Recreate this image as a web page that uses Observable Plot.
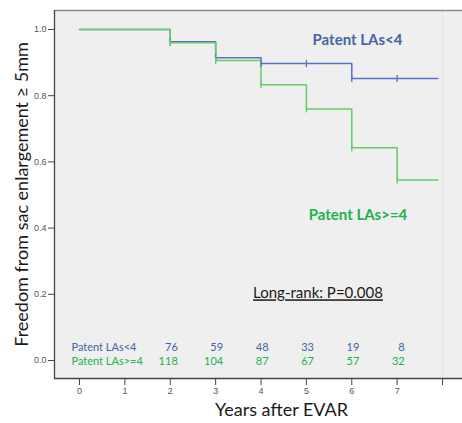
<!DOCTYPE html>
<html>
<head>
<meta charset="utf-8">
<script src="https://cdn.jsdelivr.net/npm/d3@7"></script>
<script src="https://cdn.jsdelivr.net/npm/@observablehq/plot@0.6"></script>
<style>
  html, body { margin: 0; padding: 0; background: #ffffff; }
  #chart svg { display: block; }
</style>
</head>
<body>
<div id="chart"></div>
<script>
// ---- data ----
const groups = ["Patent LAs<4", "Patent LAs>=4"];
const colors = ["#5e70c4", "#62cf66"];
const textColors = ["#4465a5", "#22b14e"];

const blueTimes = [0, 2, 3, 4, 6, 7.9];
const blueSurv  = [1.0, 0.963, 0.915, 0.897, 0.852, 0.852];
const greenTimes = [0, 2, 3, 4, 5, 6, 7, 7.9];
const greenSurv  = [1.0, 0.960, 0.906, 0.833, 0.760, 0.643, 0.545, 0.545];

const blueCensorT = [2, 3, 4, 5, 6, 7];
const blueCensorS = [0.963, 0.915, 0.897, 0.897, 0.852, 0.852];
const greenCensorT = [2, 3, 4, 5, 6, 7];
const greenCensorS = [0.960, 0.906, 0.833, 0.760, 0.643, 0.545];

const riskYears = [2, 3, 4, 5, 6, 7];
const riskBlue  = [76, 59, 48, 33, 19, 8];
const riskGreen = [118, 104, 87, 67, 57, 32];

const xTicks = [0, 1, 2, 3, 4, 5, 6, 7, 8];
const xTickLabels = ["0", "1", "2", "3", "4", "5", "6", "7", ""];
const yTicks = [0, 0.2, 0.4, 0.6, 0.8, 1.0];

const pText = "Long-rank: P=0.008";
const xLabel = "Years after EVAR";
const yLabel = "Freedom from sac enlargement \u2265 5mm";

const xDomain = [-0.551, 8.44];
const yDomain = [-0.0544, 1.0574];

// ---- build ----
const blue = blueTimes.map((t, i) => ({t, s: blueSurv[i]}));
const green = greenTimes.map((t, i) => ({t, s: greenSurv[i]}));
const blueC = blueCensorT.map((t, i) => ({t, s: blueCensorS[i]}));
const greenC = greenCensorT.map((t, i) => ({t, s: greenCensorS[i]}));
const riskB = riskYears.map((t, i) => ({t, n: riskBlue[i]}));
const riskG = riskYears.map((t, i) => ({t, n: riskGreen[i]}));

const tickSymbol = { draw(ctx, size) { ctx.moveTo(0, -3.5); ctx.lineTo(0, 3.5); } };

const tickFont = "'Liberation Sans Narrow', 'Arial Narrow', 'Liberation Sans', sans-serif";
const mainFont = "Lato, 'Open Sans', sans-serif";

const plot = Plot.plot({
  width: 462,
  height: 423,
  marginLeft: 54,
  marginRight: 0,
  marginTop: 10,
  marginBottom: 45,
  style: { fontFamily: mainFont, background: "#ffffff", overflow: "visible" },
  x: { domain: xDomain },
  y: { domain: yDomain },
  marks: [
    Plot.frame({ fill: "#efefef", stroke: "none" }),
    Plot.ruleX([8], { stroke: "#e2e2e2", strokeWidth: 1 }),
    Plot.ruleY([yDomain[1]], { stroke: "#8a8a8a", strokeWidth: 1.5 }),
    Plot.ruleX([xDomain[0]], { stroke: "#444", strokeWidth: 1.3 }),
    Plot.ruleY([yDomain[0]], { stroke: "#444", strokeWidth: 1.3 }),
    Plot.axisY(yTicks, {
      tickFormat: d3.format(".1f"), tickSize: 6, tickPadding: 2,
      fontSize: 9, fontFamily: tickFont, color: "#555", stroke: "#444",
      label: null
    }),
    Plot.axisX(xTicks, {
      tickFormat: (d, i) => xTickLabels[i], tickSize: 7, tickPadding: 2,
      fontSize: 9, fontFamily: tickFont, color: "#555", stroke: "#444",
      label: null
    }),
    Plot.text([yLabel], {
      frameAnchor: "left", dx: -32, rotate: -90, fontSize: 18, fill: "#1a1a1a",
      textAnchor: "middle", fontFamily: mainFont
    }),
    Plot.text([xLabel], {
      frameAnchor: "bottom", dy: 32, fontSize: 18, fill: "#1a1a1a",
      textAnchor: "middle", lineAnchor: "middle", fontFamily: mainFont, dx: 23
    }),
    Plot.line(blue, { x: "t", y: "s", curve: "step-after", stroke: colors[0], strokeWidth: 1.5 }),
    Plot.line(green, { x: "t", y: "s", curve: "step-after", stroke: colors[1], strokeWidth: 1.5 }),
    Plot.dot(blueC, { x: "t", y: "s", symbol: tickSymbol, stroke: colors[0], strokeWidth: 1.3, r: 3 }),
    Plot.dot(greenC, { x: "t", y: "s", symbol: tickSymbol, stroke: colors[1], strokeWidth: 1.3, r: 3 }),
    Plot.text([groups[0]], {
      frameAnchor: "top-right", dx: -105, dy: 30, textAnchor: "middle", lineAnchor: "middle",
      fontSize: 15, fontWeight: "bold", fill: textColors[0]
    }),
    Plot.text([groups[1]], {
      frameAnchor: "top-right", dx: -104.5, dy: 205, textAnchor: "middle", lineAnchor: "middle",
      fontSize: 15, fontWeight: "bold", fill: textColors[1]
    }),
    Plot.text([pText], {
      frameAnchor: "top-right", dx: -144.5, dy: 283, textAnchor: "middle", lineAnchor: "middle",
      fontSize: 15, fill: "#1a1a1a"
    }),
    Plot.text([groups[0]], {
      frameAnchor: "bottom-left", dx: 17, dy: -31.5, textAnchor: "start", lineAnchor: "middle",
      fontSize: 11, fill: textColors[0]
    }),
    Plot.text([groups[1]], {
      frameAnchor: "bottom-left", dx: 17, dy: -17, textAnchor: "start", lineAnchor: "middle",
      fontSize: 11, fill: textColors[1]
    }),
    Plot.text(riskB, {
      x: "t", text: "n", frameAnchor: "bottom", dy: -31.5, dx: 7.5, textAnchor: "end", lineAnchor: "middle",
      fontSize: 11, fill: textColors[0]
    }),
    Plot.text(riskG, {
      x: "t", text: "n", frameAnchor: "bottom", dy: -17, dx: 7.5, textAnchor: "end", lineAnchor: "middle",
      fontSize: 11, fill: textColors[1]
    })
  ]
});

d3.select(plot).selectAll("text").filter(function () {
  return this.textContent === pText;
}).style("text-decoration", "underline");

document.getElementById("chart").appendChild(plot);
</script>
</body>
</html>
